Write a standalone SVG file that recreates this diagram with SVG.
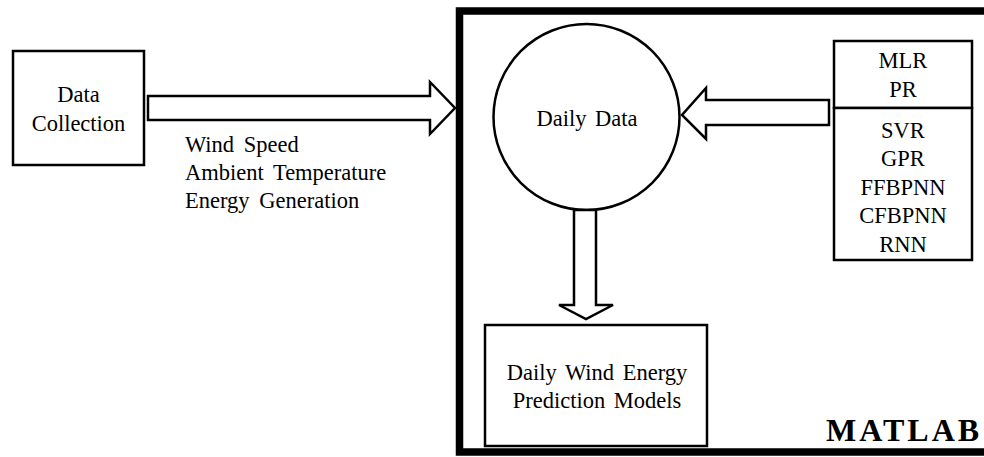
<svg xmlns="http://www.w3.org/2000/svg" width="984" height="457" viewBox="0 0 984 457">
  <style>
    .box { fill: #fff; stroke: #000; stroke-width: 2.5; }
    .arrow { fill: #fff; stroke: #000; stroke-width: 2.5; stroke-linejoin: miter; }
    .lbl { font-family: "Liberation Serif", "Times New Roman", serif; font-size: 22.5px; fill: #000; text-anchor: middle; word-spacing: 3px; }
    .lbl-left { font-family: "Liberation Serif", "Times New Roman", serif; font-size: 22.5px; fill: #000; word-spacing: 4px; }
    .title { font-family: "Liberation Serif", "Times New Roman", serif; font-size: 32px; font-weight: bold; fill: #000; letter-spacing: 3px; }
  </style>
  <rect width="984" height="457" fill="#fff"/>

  <!-- MATLAB frame (right edge runs off the canvas) -->
  <g id="matlab">
    <rect x="459.5" y="11" width="540" height="441" fill="none" stroke="#000" stroke-width="7.5"/>
    <text class="title" x="826" y="441">MATLAB</text>
  </g>

  <g id="data-collection">
    <rect class="box" x="13" y="51" width="131" height="114"/>
    <text class="lbl" x="78.5" y="102">Data</text>
    <text class="lbl" x="78.5" y="131">Collection</text>
  </g>

  <g id="daily-data">
    <circle class="box" cx="586.5" cy="117" r="93"/>
    <text class="lbl" x="587" y="126">Daily Data</text>
  </g>

  <g id="models-list">
    <rect class="box" x="834" y="41" width="138" height="67"/>
    <rect class="box" x="834" y="108" width="138" height="152"/>
    <text class="lbl" x="903" y="68">MLR</text>
    <text class="lbl" x="903" y="97">PR</text>
    <text class="lbl" x="903" y="138">SVR</text>
    <text class="lbl" x="903" y="166">GPR</text>
    <text class="lbl" x="903" y="195">FFBPNN</text>
    <text class="lbl" x="903" y="223">CFBPNN</text>
    <text class="lbl" x="903" y="252">RNN</text>
  </g>

  <g id="prediction-models">
    <rect class="box" x="485" y="325" width="222" height="121"/>
    <text class="lbl" x="597" y="380">Daily Wind Energy</text>
    <text class="lbl" x="597" y="408">Prediction Models</text>
  </g>

  <g id="connectors">
    <!-- data collection to MATLAB -->
    <polygon class="arrow" points="148,96 430,96 430,82 455,108 430,134 430,120 148,120"/>
    <!-- model list to daily data -->
    <polygon class="arrow" points="829,100 706,100 706,88 682,115 706,139 706,125 829,125"/>
    <!-- daily data to prediction models -->
    <polygon class="arrow" points="574,210 596,210 596,305 613,305 586,319 559,305 574,305"/>
    <text class="lbl-left" x="185" y="152">Wind Speed</text>
    <text class="lbl-left" x="185" y="180">Ambient Temperature</text>
    <text class="lbl-left" x="185" y="208">Energy Generation</text>
  </g>
</svg>
